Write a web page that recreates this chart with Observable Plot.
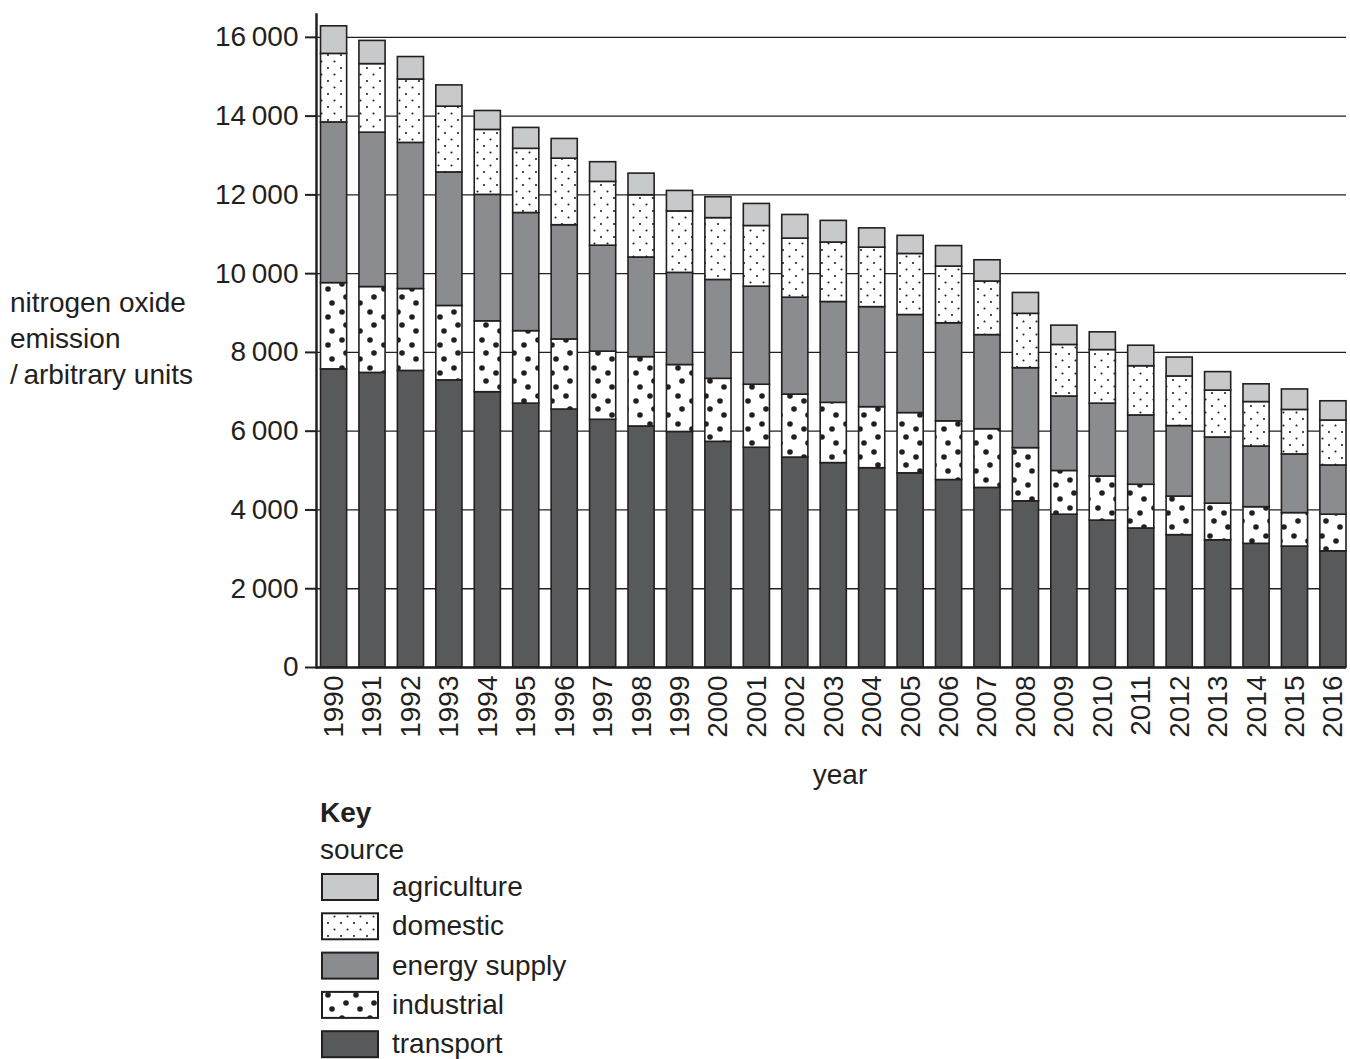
<!DOCTYPE html>
<html>
<head>
<meta charset="utf-8">
<script src="https://cdn.jsdelivr.net/npm/d3@7"></script>
<script src="https://cdn.jsdelivr.net/npm/@observablehq/plot@0.6"></script>
<style>
  html, body { margin: 0; padding: 0; background: #fff; }
  #chart, #legend { display: block; }
  svg { font-family: "Liberation Sans", Arial, sans-serif; }
</style>
</head>
<body>
<div id="chart"></div>
<div id="legend"></div>
<script>
const years = [1990,1991,1992,1993,1994,1995,1996,1997,1998,1999,2000,2001,2002,2003,2004,2005,2006,2007,2008,2009,2010,2011,2012,2013,2014,2015,2016];
const transport    = [7570,7480,7530,7290,6990,6700,6550,6290,6120,5980,5730,5580,5330,5190,5060,4930,4760,4560,4220,3880,3730,3530,3360,3230,3140,3070,2950];
const industrial   = [2190,2180,2080,1890,1800,1840,1780,1730,1760,1700,1600,1600,1600,1530,1550,1530,1490,1490,1350,1110,1120,1110,980,930,930,850,930];
const energySupply = [4080,3920,3710,3390,3210,3000,2900,2690,2530,2340,2510,2490,2460,2560,2540,2490,2490,2390,2030,1890,1850,1760,1790,1680,1540,1490,1250];
const domestic     = [1740,1740,1610,1670,1650,1630,1690,1620,1580,1560,1570,1540,1500,1510,1510,1550,1440,1360,1380,1310,1360,1250,1260,1190,1130,1130,1140];
const agriculture  = [700,590,570,540,480,530,500,500,550,520,530,560,600,550,490,460,520,540,530,490,450,520,480,470,450,520,490];
const yTicks = [0,2000,4000,6000,8000,10000,12000,14000,16000];
// bottom-to-top stacking order
const sources = ["transport","industrial","energy supply","domestic","agriculture"];
const seriesValues = {"transport": transport, "industrial": industrial, "energy supply": energySupply, "domestic": domestic, "agriculture": agriculture};
const sourceFills = {"transport": "#58595b", "industrial": "url(#pat-ind)", "energy supply": "#8b8c8f", "domestic": "url(#pat-dom)", "agriculture": "#c8c9cb"};
const legendOrder = ["agriculture","domestic","energy supply","industrial","transport"];

const ink = "#231f20";
const data = [];
years.forEach((yr, i) => {
  sources.forEach(s => data.push({year: yr, source: s, value: seriesValues[s][i]}));
});

const fmt = d => d === 0 ? "0" : d3.format(",")(d).replace(",", "\u2009");

const W = 1350, H = 790;
const plot = Plot.plot({
  width: W,
  height: H,
  marginLeft: 316,
  marginRight: 4,
  marginTop: 14,
  marginBottom: 123,
  style: {fontFamily: '"Liberation Sans", Arial, sans-serif', fontSize: "28px", color: ink, background: "#fff", overflow: "visible"},
  x: {type: "band", domain: years, range: [320.5, 1346], paddingInner: 0.32, paddingOuter: 0, align: 0.5, round: false, label: null},
  y: {domain: [0, 16580], label: null},
  color: {type: "ordinal", domain: sources, range: sources.map(s => sourceFills[s])},
  marks: [
    Plot.ruleY(yTicks, {stroke: ink, strokeWidth: 1.3}),
    Plot.barY(data, Plot.stackY({x: "year", y: "value", fill: "source", stroke: ink, strokeWidth: 1.6, order: null})),
    Plot.ruleY([0], {stroke: ink, strokeWidth: 2.5}),
    Plot.frame({anchor: "left", stroke: ink, strokeWidth: 2.5}),
    Plot.axisY({ticks: yTicks, tickFormat: fmt, tickSize: 11, tickPadding: 7, stroke: ink, strokeWidth: 2, label: null, fontSize: 28}),
    Plot.axisX({tickRotate: -90, tickSize: 0, tickPadding: 8, label: null, fontSize: 28, tickFormat: d => String(d)})
  ]
});

const svg = d3.select(plot);
const defs = svg.insert("defs", ":first-child");
function addPatterns(defs) {
  const dom = defs.append("pattern").attr("id", "pat-dom").attr("patternUnits", "userSpaceOnUse")
    .attr("width", 13).attr("height", 13);
  dom.append("rect").attr("width", 13).attr("height", 13).attr("fill", "#fff");
  [[3,3],[9.5,9.5]].forEach(([cx, cy]) => dom.append("circle").attr("cx", cx).attr("cy", cy).attr("r", 1.05).attr("fill", ink));
  const ind = defs.append("pattern").attr("id", "pat-ind").attr("patternUnits", "userSpaceOnUse")
    .attr("width", 28).attr("height", 28);
  ind.append("rect").attr("width", 28).attr("height", 28).attr("fill", "#fff");
  [[6,4],[20,9],[10,17],[24,23]].forEach(([cx, cy]) => ind.append("circle").attr("cx", cx).attr("cy", cy).attr("r", 2.8).attr("fill", ink));
}
addPatterns(defs);

// y-axis title (three lines)
const yt = svg.append("text").attr("fill", ink).attr("font-size", 28).attr("text-anchor", "start");
["nitrogen oxide", "emission", "/\u2009arbitrary units"].forEach((t, i) => {
  yt.append("tspan").attr("x", 10).attr("y", 312 + i * 36).text(t);
});
// x-axis title
svg.append("text").attr("fill", ink).attr("font-size", 28).attr("text-anchor", "middle")
  .attr("x", 840).attr("y", 784).text("year");

document.getElementById("chart").appendChild(plot);

// Legend
const leg = d3.select("#legend").append("svg").attr("width", W).attr("height", 1059 - H)
  .style("font-family", '"Liberation Sans", Arial, sans-serif').style("font-size", "28px");
leg.append("text").attr("x", 320).attr("y", 32).attr("font-weight", "bold").attr("fill", ink).text("Key");
leg.append("text").attr("x", 320).attr("y", 69).attr("fill", ink).text("source");
legendOrder.forEach((s, i) => {
  const cy = 97 + i * 39.3;
  leg.append("rect").attr("x", 322).attr("y", cy - 13).attr("width", 56).attr("height", 26)
    .attr("fill", sourceFills[s]).attr("stroke", ink).attr("stroke-width", 2);
  leg.append("text").attr("x", 392).attr("y", cy + 9).attr("fill", ink).text(s);
});
</script>
</body>
</html>
